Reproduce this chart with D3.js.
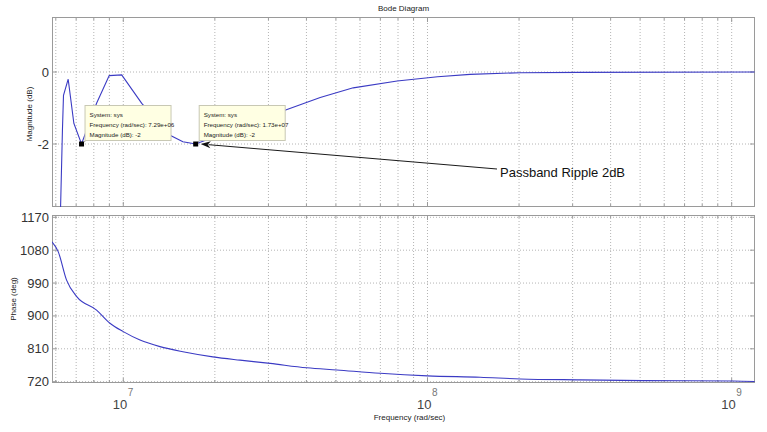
<!DOCTYPE html>
<html><head><meta charset="utf-8">
<script src="https://cdn.jsdelivr.net/npm/d3@7"></script>
<style>body{margin:0;background:#fff}text{font-family:"Liberation Sans",Arial,Helvetica,sans-serif}</style>
</head><body>
<svg id="c" width="767" height="432"></svg>
<script>
// ---- data ----
const magFreq = [6.17e6, 6.31e6, 6.36e6, 6.59e6, 6.88e6, 7.29e6, 8.17e6, 8.99e6, 9.88e6, 1.15e7, 1.42e7, 1.57e7, 1.73e7, 3.40e7, 4.44e7, 5.70e7, 7.95e7, 1.08e8, 1.38e8, 2.02e8, 3.18e8, 1.19e9];
const magDb   = [-5.0, -1.6, -0.65, -0.2, -1.43, -2.0, -0.87, -0.1, -0.08, -0.87, -1.75, -1.94, -2.0, -1.06, -0.71, -0.44, -0.25, -0.13, -0.065, -0.02, -0.01, 0];
const phaseFreq = [5.83e6, 6.11e6, 6.51e6, 7.03e6, 8.17e6, 9.04e6, 1.0e7, 1.135e7, 1.32e7, 1.57e7, 1.97e7, 2.42e7, 3.04e7, 4.01e7, 5.04e7, 6.99e7, 1.0e8, 1.49e8, 2.02e8, 3.18e8, 5.12e8, 1.01e9, 1.19e9];
const phaseDeg  = [1103, 1076, 998, 953, 916, 880, 857, 834, 816, 802, 788, 779, 770, 758, 752, 743, 736, 732, 727.5, 725, 723, 722, 720.5];
const magTicks = [0, -2];
const phaseTicks = [720, 810, 900, 990, 1080, 1170];
const decadeTicks = [1e7, 1e8, 1e9];
const tipFreqs = [7.29e6, 1.73e7];
const tipFreqLabels = ["7.29e+06", "1.73e+07"];
const tipMags = [-2, -2];
const annotation = "Passband Ripple 2dB";

// ---- layout ----
const L = 52, R = 755;
const magTop = 17, magBot = 207, phTop = 215, phBot = 383;
const svg = d3.select("#c");
const x = d3.scaleLog().domain([5.83e6, 1.193e9]).range([L, R]);
const yM = d3.scaleLinear().domain([-3.75, 1.528]).range([magBot, magTop]);
const yP = d3.scaleLinear().domain([716.4, 1176.3]).range([phBot, phTop]);
const lineCol = "#3b3bc4", gridCol = "#b4b4b4", axCol = "#9a9a9a", txtCol = "#333";
const allTicks = x.ticks();

function panel(id, top, bot, y, yt) {
  const g = svg.append("g");
  svg.append("clipPath").attr("id", id).append("rect").attr("x", L).attr("y", top).attr("width", R - L).attr("height", bot - top);
  g.selectAll(".vg").data(allTicks).join("line")
    .attr("x1", d => x(d)).attr("x2", d => x(d)).attr("y1", top).attr("y2", bot)
    .attr("stroke", gridCol).attr("stroke-width", 1).attr("stroke-dasharray", "1,2");
  g.selectAll(".hg").data(yt).join("line")
    .attr("x1", L).attr("x2", R).attr("y1", d => y(d)).attr("y2", d => y(d))
    .attr("stroke", gridCol).attr("stroke-width", 1).attr("stroke-dasharray", "1,2");
  const tl = d => decadeTicks.includes(d) ? 5 : 3;
  g.selectAll(".tb").data(allTicks).join("line")
    .attr("x1", d => x(d)).attr("x2", d => x(d)).attr("y1", bot).attr("y2", d => bot - tl(d))
    .attr("stroke", axCol);
  g.selectAll(".tt").data(allTicks).join("line")
    .attr("x1", d => x(d)).attr("x2", d => x(d)).attr("y1", top).attr("y2", d => top + tl(d))
    .attr("stroke", axCol);
  g.selectAll(".yl").data(yt).join("line")
    .attr("x1", L).attr("x2", L + 5).attr("y1", d => y(d)).attr("y2", d => y(d)).attr("stroke", axCol);
  g.selectAll(".yr").data(yt).join("line")
    .attr("x1", R).attr("x2", R - 5).attr("y1", d => y(d)).attr("y2", d => y(d)).attr("stroke", axCol);
  g.selectAll(".ylab").data(yt).join("text")
    .attr("x", L - 3).attr("y", d => y(d) + 4.5).attr("text-anchor", "end")
    .attr("font-size", 13).attr("fill", txtCol).text(d => d);
  g.append("rect").attr("x", L + 0.5).attr("y", top + 0.5).attr("width", R - L - 1).attr("height", bot - top - 1)
    .attr("fill", "none").attr("stroke", axCol).attr("stroke-width", 1);
  return g;
}

panel("cm", magTop, magBot, yM, magTicks);
panel("cp", phTop, phBot, yP, phaseTicks);

// curves
const magPts = magFreq.map((f, i) => [f, magDb[i]]);
svg.append("path").attr("clip-path", "url(#cm)")
  .attr("d", d3.line().x(d => x(d[0])).y(d => yM(d[1]))(magPts))
  .attr("fill", "none").attr("stroke", lineCol).attr("stroke-width", 1.1);
const phPts = phaseFreq.map((f, i) => [f, phaseDeg[i]]);
svg.append("path").attr("clip-path", "url(#cp)")
  .attr("d", d3.line().curve(d3.curveMonotoneX).x(d => x(d[0])).y(d => yP(d[1]))(phPts))
  .attr("fill", "none").attr("stroke", lineCol).attr("stroke-width", 1.1);

// x tick labels (bottom panel)
const xl = svg.append("g");
decadeTicks.forEach(d => {
  const e = Math.round(Math.log10(d));
  xl.append("text").attr("x", x(d) + 4).attr("y", 408.5).attr("text-anchor", "end")
    .attr("font-size", 13).attr("fill", "#444").text("10");
  xl.append("text").attr("x", x(d) + 4.5).attr("y", 396)
    .attr("font-size", 10).attr("fill", "#777").text(e);
});

// titles & labels
svg.append("text").attr("x", (L + R) / 2).attr("y", 11).attr("text-anchor", "middle")
  .attr("font-size", 8).attr("fill", "#222").text("Bode Diagram");
svg.append("text").attr("x", (L + R) / 2 + 6).attr("y", 420).attr("text-anchor", "middle")
  .attr("font-size", 8).attr("fill", "#222").text("Frequency  (rad/sec)");
svg.append("text").attr("transform", `translate(32,${(magTop + magBot) / 2 + 2}) rotate(-90)`)
  .attr("text-anchor", "middle").attr("font-size", 8).attr("fill", "#222").text("Magnitude (dB)");
svg.append("text").attr("transform", `translate(16,${(phTop + phBot) / 2}) rotate(-90)`)
  .attr("text-anchor", "middle").attr("font-size", 8).attr("fill", "#222").text("Phase (deg)");

// datatips
tipFreqs.forEach((f, i) => {
  const mx = x(f), my = yM(tipMags[i]);
  const bx = mx + 3, by = 105, bw = 86, bh = 35;
  const g = svg.append("g");
  g.append("line").attr("x1", mx).attr("y1", my).attr("x2", bx + 2).attr("y2", by + bh)
    .attr("stroke", "#888").attr("stroke-width", 0.8);
  g.append("rect").attr("x", bx + 0.5).attr("y", by + 0.5).attr("width", bw).attr("height", bh)
    .attr("fill", "#ffffe3").attr("stroke", "#c8c8b4").attr("stroke-width", 1);
  const lines = ["System: sys", "Frequency (rad/sec): " + tipFreqLabels[i], "Magnitude (dB): " + tipMags[i]];
  lines.forEach((t, k) => g.append("text").attr("x", bx + 5).attr("y", by + 11.5 + k * 10)
    .attr("font-size", 6.2).attr("fill", "#222").text(t));
  g.append("rect").attr("x", mx - 2.5).attr("y", my - 2.5).attr("width", 5).attr("height", 5).attr("fill", "#000");
});

// annotation arrow
const ax0 = x(tipFreqs[1]) + 5, ay0 = yM(tipMags[1]);
const tx = 497, ty = 169;
svg.append("line").attr("x1", ax0 + 8).attr("y1", ay0 + 0.7).attr("x2", tx).attr("y2", ty)
  .attr("stroke", "#1a1a1a").attr("stroke-width", 1);
const ang = Math.atan2(ty - ay0, tx - ax0);
const hl = 10, hw = 3.5;
const p = [[ax0, ay0],
  [ax0 + hl * Math.cos(ang) - hw * Math.sin(ang), ay0 + hl * Math.sin(ang) + hw * Math.cos(ang)],
  [ax0 + hl * 0.7 * Math.cos(ang), ay0 + hl * 0.7 * Math.sin(ang)],
  [ax0 + hl * Math.cos(ang) + hw * Math.sin(ang), ay0 + hl * Math.sin(ang) - hw * Math.cos(ang)]];
svg.append("path").attr("d", "M" + p.map(q => q.join(",")).join("L") + "Z").attr("fill", "#111");
svg.append("text").attr("x", 500).attr("y", 176.5).attr("font-size", 13).attr("fill", "#111").text(annotation);
</script>
</body></html>
